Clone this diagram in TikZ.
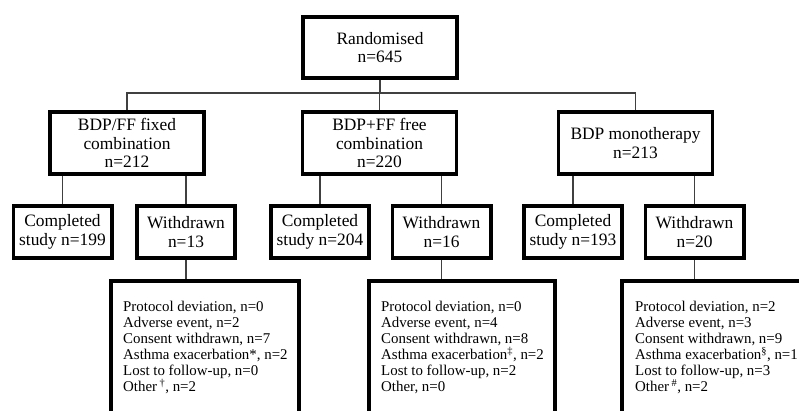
\documentclass[tikz,border=0pt]{standalone}
\usepackage{fontspec}
\setmainfont{Liberation Serif}
\begin{document}
\begin{tikzpicture}[x=1pt,y=-1pt,
  box/.style={draw=black, line width=3.8pt, inner sep=0pt, align=center,
    font=\fontsize{17.4}{18.5}\selectfont},
  grp/.style={box, minimum width=154pt, minimum height=62pt},
  sub/.style={box, minimum width=98.2pt, minimum height=52.2pt},
  detail/.style={draw=black, line width=3.8pt, inner sep=0pt, minimum height=157pt},
  dtext/.style={anchor=north west, inner sep=0pt, align=left,
    font=\fontsize{14.9}{16}\selectfont},
  conn/.style={draw=black!75, line width=1.3pt},
  ]
\clip (0,0) rectangle (799,410);
\fill[white] (0,0) rectangle (799,410);

\node[box, minimum width=154.2pt, minimum height=61.2pt] (rand) at (380,47.5) {Randomised\\n=645};

\node[grp] (g1) at (127,143) {BDP/FF fixed\\combination\\n=212};
\node[grp] (g2) at (379.5,143) {BDP+FF free\\combination\\n=220};
\node[grp] (g3) at (635.5,143) {BDP monotherapy\\n=213};

\node[sub] (c1) at (62.5,232) {Completed\\study n=199};
\node[sub] (w1) at (186,232) {Withdrawn\\n=13};
\node[sub] (c2) at (320,232) {Completed\\study n=204};
\node[sub] (w2) at (441.5,232) {Withdrawn\\n=16};
\node[sub] (c3) at (573,232) {Completed\\study n=193};
\node[sub] (w3) at (694.5,232) {Withdrawn\\n=20};

\node[detail, minimum width=188.2pt] (d1) at (205,359.5) {};
\node[detail, minimum width=186.2pt] (d2) at (462,359.5) {};
\node[detail, minimum width=206.2pt] (d3) at (725,359.5) {};

\node[dtext] (t1) at (123,301) {Protocol deviation, n=0\\Adverse event, n=2\\Consent withdrawn, n=7\\Asthma exacerbation*, n=2\\Lost to follow-up, n=0\\Other\,\textsuperscript{†}, n=2};
\node[dtext] (t2) at (381,301) {Protocol deviation, n=0\\Adverse event, n=4\\Consent withdrawn, n=8\\Asthma exacerbation\textsuperscript{‡}, n=2\\Lost to follow-up, n=2\\Other, n=0};
\node[dtext] (t3) at (635,301) {Protocol deviation, n=2\\Adverse event, n=3\\Consent withdrawn, n=9\\Asthma exacerbation\textsuperscript{§}, n=1\\Lost to follow-up, n=3\\Other\,\textsuperscript{\#}, n=2};

\coordinate (hub) at (380,93);
\draw[conn] (rand.south) -- (hub);
\draw[conn] (g1.north) |- (hub) -| (g3.north);
\draw[conn] (g2.north) -- (g2.north |- hub);

\draw[conn] (g1.south -| c1.north) -- (c1.north);
\draw[conn] (g1.south -| w1.north) -- (w1.north);
\draw[conn] (g2.south -| c2.north) -- (c2.north);
\draw[conn] (g2.south -| w2.north) -- (w2.north);
\draw[conn] (g3.south -| c3.north) -- (c3.north);
\draw[conn] (g3.south -| w3.north) -- (w3.north);

\draw[conn] (w1.south) -- (w1.south |- d1.north);
\draw[conn] (w2.south) -- (w2.south |- d2.north);
\draw[conn] (w3.south) -- (w3.south |- d3.north);
\end{tikzpicture}
\end{document}
